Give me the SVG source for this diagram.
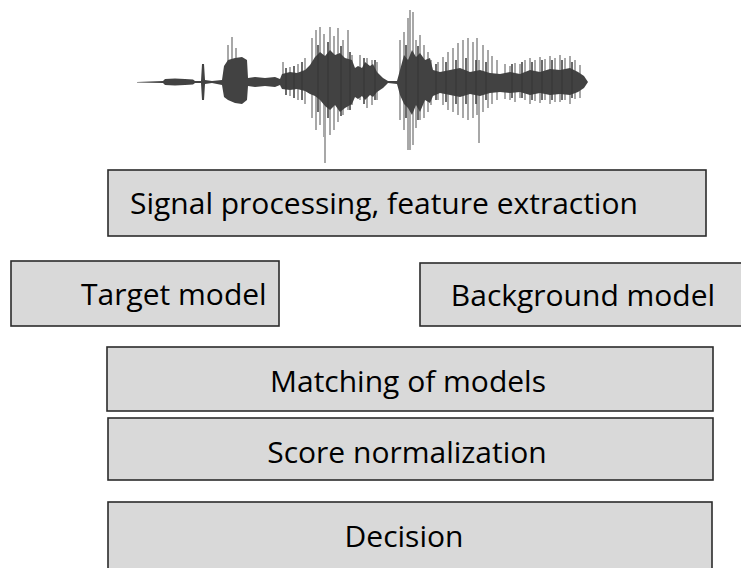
<svg xmlns="http://www.w3.org/2000/svg" width="741" height="568" viewBox="0 0 741 568">
<style>
.box{fill:#d9d9d9;stroke:#2b2b2b;stroke-width:1.6}
.lbl{font-family:"Open Sans","Liberation Sans",sans-serif;font-size:30px;fill:#000}
.mid{text-anchor:middle}
.wl{stroke:#a8a8a8;stroke-width:2;fill:none}
.wd{stroke:#3a3a3a;stroke-width:1.5;fill:none}
</style>
<rect width="741" height="568" fill="#fff"/>
<g id="waveform">
<path class="wl" d="M228 45V62M232 37V60M236 48V58M283 62V76M290 67V96M298 64V100M305 58V104M312 38V118M316 30V130M320 27V125M324 34V137M325 100V163M330 27V135M334 36V130M338 28V122M343 40V115M348 30V110M352 55V105M360 55V100M367 58V108M372 60V105M377 62V100M400 40V120M404 32V130M408 18V150M410 10V150M413 12V145M416 40V128M420 35V120M424 45V118M428 52V112M431 60V105M438 62V100M443 57V105M448 52V110M453 48V112M458 43V115M463 40V118M468 38V120M473 42V118M477 38V115M479 60V143M483 45V112M488 50V108M492 56V104M497 60V100M505 64V99M510 66V100M515 63V102M520 64V98M525 60V100M530 58V104M535 60V101M540 57V103M545 59V100M550 56V104M555 58V102M560 55V102M565 58V100M570 56V104M575 60V99M580 65V98"/>
<polygon fill="#424242" points="137,82 163,81 165,79 175,78.5 185,79 193,79.5 195,81 201,81 202,64 204,64 205,80 212,81 222,80 224,66 228,60 235,58 242,57 247,60 248,78 255,77 265,78 275,77 280,79 282,74 290,72 297,73 305,70 310,65 315,57 320,52 325,56 330,50 335,55 340,53 345,58 352,60 355,68 358,66 362,68 365,62 370,66 373,64 377,72 383,78 388,81 397,81 400,70 404,55 408,60 412,50 416,57 420,53 425,60 430,58 433,70 440,72 450,70 460,68 470,72 480,70 490,73 500,74 510,72 520,74 530,70 540,72 550,69 560,70 570,68 578,72 584,76 588,82 584,88 578,92 570,95 560,94 550,95 540,93 530,95 520,92 510,93 500,92 490,93 480,96 470,94 460,97 450,95 440,93 433,96 430,103 425,100 420,112 416,105 412,115 408,108 404,104 400,95 397,84 388,83 383,88 377,92 373,97 370,95 365,100 362,96 358,99 355,97 352,104 345,108 340,112 335,105 330,110 325,106 320,100 315,96 310,94 305,91 297,89 290,90 282,89 280,85 275,87 265,86 255,87 248,86 247,100 242,104 235,103 228,100 224,97 222,85 212,83 205,84 204,100 202,100 201,83 195,83 193,84.5 185,85 175,85.5 165,85 163,83 137,82.5"/>
<path class="wd" d="M286 68V95M294 66V98M302 62V100M318 45V112M328 42V118M341 46V116M350 52V110M364 58V104M375 60V100M406 45V118M418 46V120M436 64V100M446 62V102M456 60V104M466 58V104M476 60V104M486 62V100M512 64V98M522 62V98M532 62V100M542 60V100M552 60V100M562 60V100M572 62V98"/>
</g>
<g id="signal-processing">
<rect class="box" x="108" y="170" width="598" height="66"/>
<text class="lbl" x="130" y="214">Signal processing, feature extraction</text>
</g>
<g id="target-model">
<rect class="box" x="11" y="261" width="268" height="65"/>
<text class="lbl" x="81" y="305">Target model</text>
</g>
<g id="background-model">
<rect class="box" x="420" y="263" width="330" height="63"/>
<text class="lbl mid" x="583" y="306">Background model</text>
</g>
<g id="matching">
<rect class="box" x="107" y="347" width="606" height="64"/>
<text class="lbl mid" x="408" y="392">Matching of models</text>
</g>
<g id="score-normalization">
<rect class="box" x="108" y="418" width="605" height="62"/>
<text class="lbl mid" x="407" y="463">Score normalization</text>
</g>
<g id="decision">
<rect class="box" x="108" y="502" width="604" height="70"/>
<text class="lbl mid" x="404" y="547">Decision</text>
</g>
<g id="connectors"/>
</svg>
